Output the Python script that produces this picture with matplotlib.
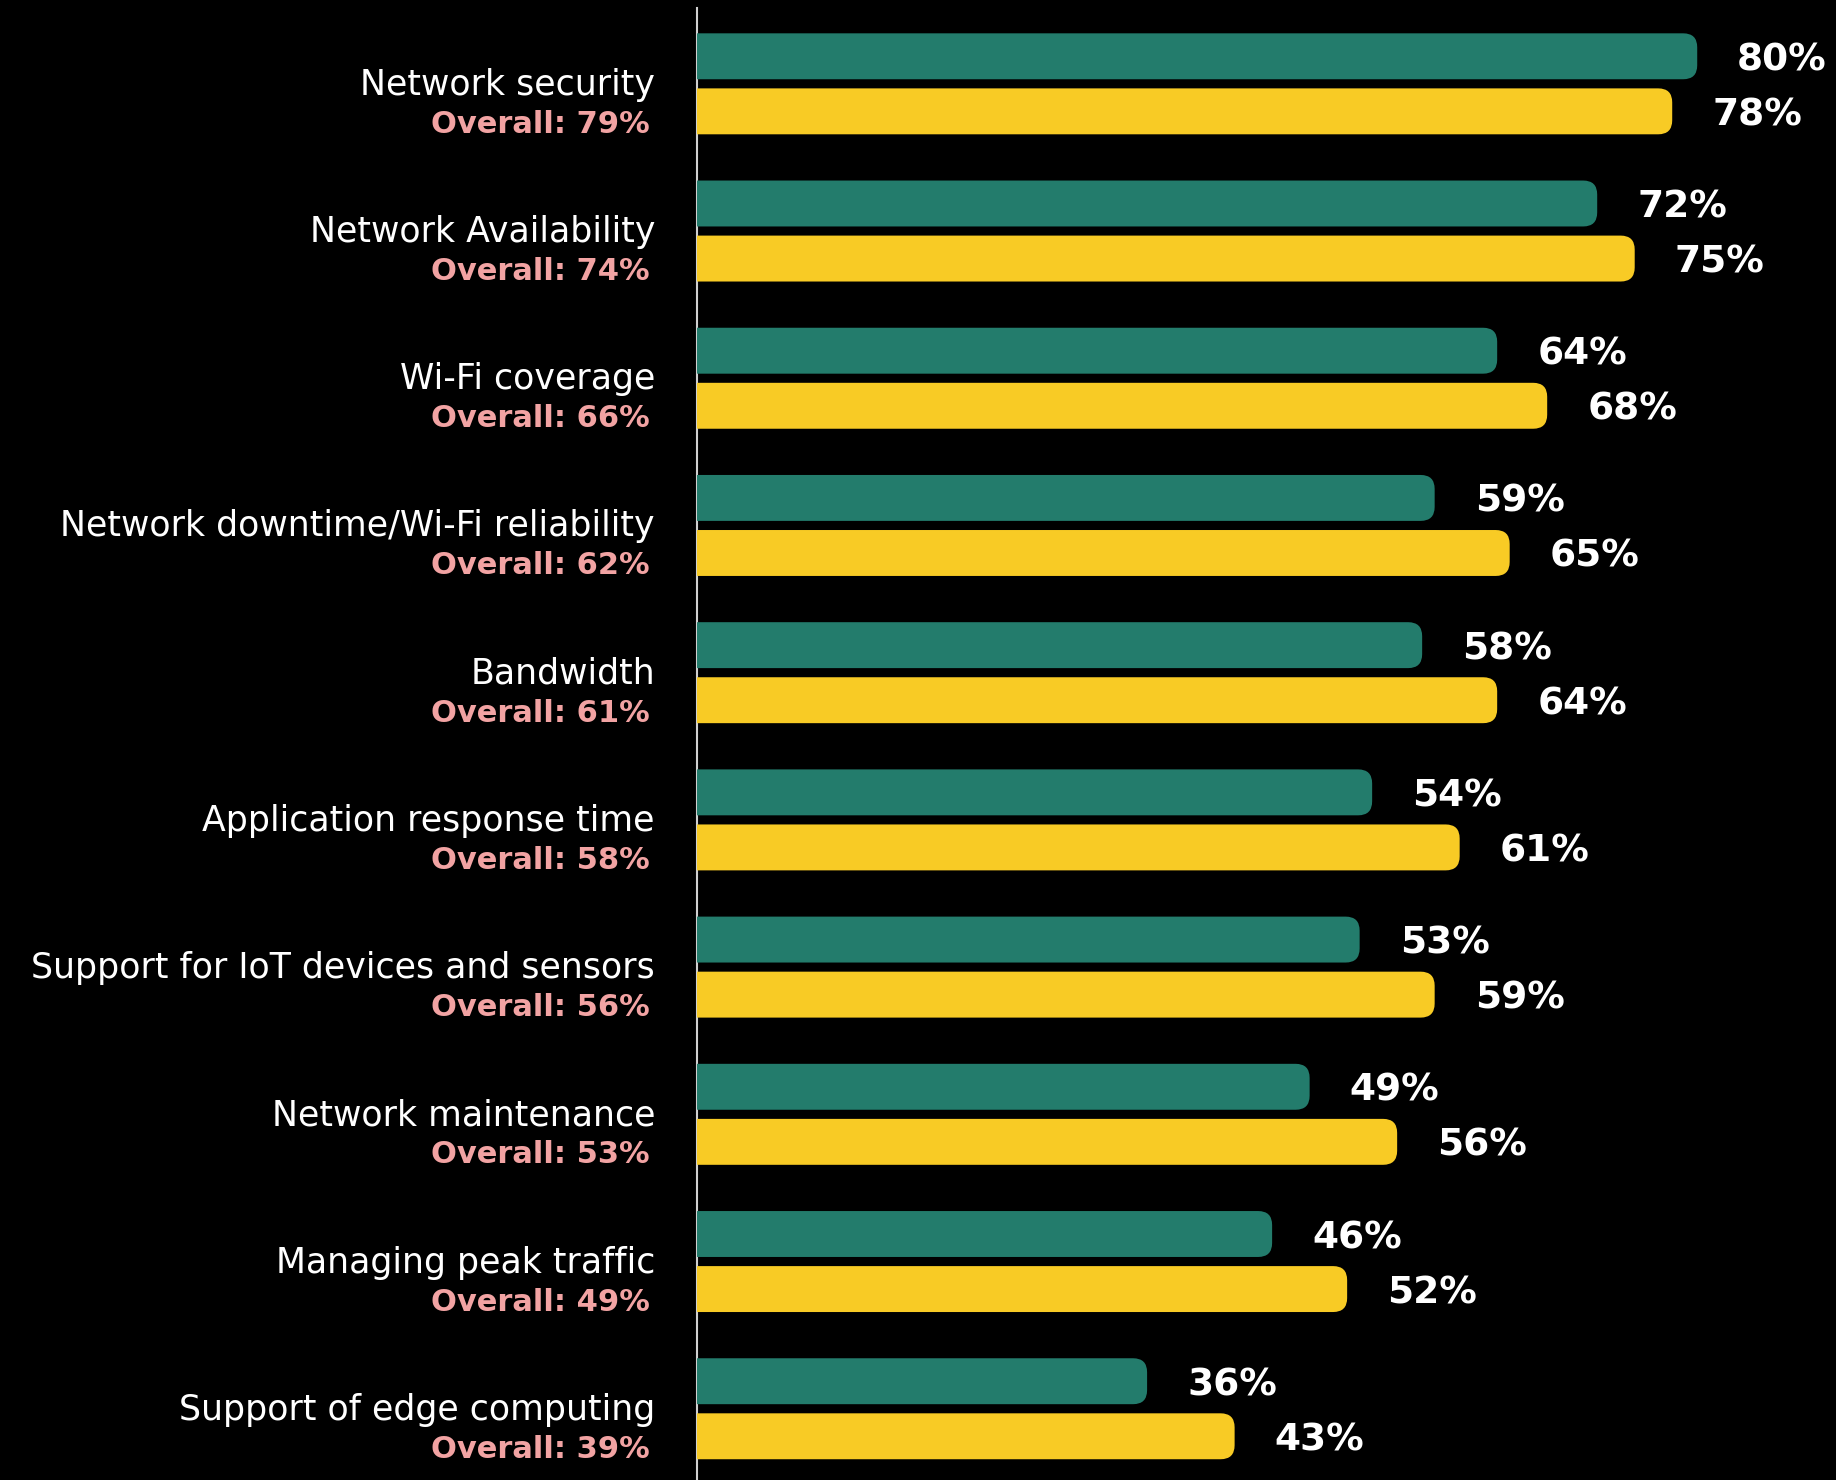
import matplotlib.pyplot as plt
import numpy as np
from matplotlib.patches import FancyBboxPatch

# === DATA ===
categories = [
    "Network security",
    "Network Availability",
    "Wi-Fi coverage",
    "Network downtime/Wi-Fi reliability",
    "Bandwidth",
    "Application response time",
    "Support for IoT devices and sensors",
    "Network maintenance",
    "Managing peak traffic",
    "Support of edge computing",
]
overall = [79, 74, 66, 62, 61, 58, 56, 53, 49, 39]
green_vals = [80, 72, 64, 59, 58, 54, 53, 49, 46, 36]
yellow_vals = [78, 75, 68, 65, 64, 61, 59, 56, 52, 43]

GREEN = '#237C6C'
YELLOW = '#F8CB25'
PINK = '#F2A3A3'
PT = 0.72  # points per pixel at dpi 100
FONT = 'DejaVu Sans'

# === FIGURE ===
fig = plt.figure(figsize=(18.36, 14.8), dpi=100, facecolor='black')
ax = fig.add_axes([697 / 1836, 0, 1139 / 1836, 1472 / 1480])
ax.set_facecolor('black')
ax.set_xlim(0, 91.1)
ax.set_ylim(9.484, -0.515)

y = np.arange(len(categories))
off, h = 0.187, 0.312
bars_g = ax.barh(y - off, green_vals, height=h, color=GREEN)
bars_y = ax.barh(y + off, yellow_vals, height=h, color=YELLOW)

# swap plain bars for ones with rounded right ends
bb = ax.get_window_extent()
px_x = bb.width / (ax.get_xlim()[1] - ax.get_xlim()[0])
px_y = bb.height / abs(ax.get_ylim()[0] - ax.get_ylim()[1])
r = 14 / px_x
for bar in list(bars_g) + list(bars_y):
    x0, y0, w, hh = bar.get_x(), bar.get_y(), bar.get_width(), bar.get_height()
    bar.set_visible(False)
    ax.add_patch(FancyBboxPatch((x0 - r, y0), w + r, hh,
                                boxstyle=f"round,pad=0,rounding_size={r}",
                                mutation_aspect=px_x / px_y,
                                fc=bar.get_facecolor(), ec='none', zorder=2))

# === LABELS ===
for i, cat in enumerate(categories):
    ax.annotate(cat, xy=(0, i), xytext=(-42 * PT, -11 * PT), textcoords='offset points',
                ha='right', va='baseline', color='white', fontsize=25, family=FONT)
    ax.annotate(f"Overall: {overall[i]}%", xy=(0, i), xytext=(-47 * PT, -49 * PT),
                textcoords='offset points', ha='right', va='baseline', color=PINK,
                fontsize=22, fontweight='bold', family=FONT)

for vals, yy in ((green_vals, y - off), (yellow_vals, y + off)):
    for v, yp in zip(vals, yy):
        ax.annotate(f"{v}%", xy=(v, yp), xytext=(40 * PT, -14 * PT), textcoords='offset points',
                    ha='left', va='baseline', color='white', fontsize=27,
                    fontweight='bold', family=FONT)

# === AXES STYLE ===
for s in ['top', 'right', 'bottom']:
    ax.spines[s].set_visible(False)
ax.spines['left'].set_color('#d0d0d0')
ax.spines['left'].set_linewidth(1.5)
ax.spines['left'].set_zorder(0.5)
ax.set_xticks([])
ax.set_yticks([])

fig.savefig("out.png", dpi=100, facecolor='black')
